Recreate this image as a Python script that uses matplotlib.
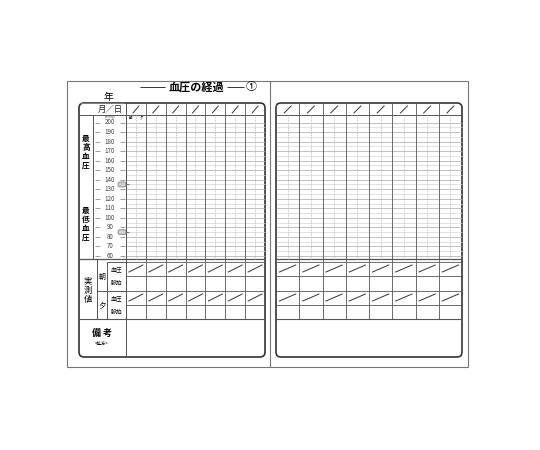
import matplotlib
matplotlib.use("Agg")
import matplotlib.pyplot as plt
from matplotlib.patches import FancyBboxPatch, Rectangle

plt.rcParams['font.family'] = ['Noto Sans CJK JP', 'DejaVu Sans']

scale_values = list(range(200, 50, -10))      # 200 .. 60
left_days = 7
right_days = 8
row_labels = ["血圧", "脈拍", "血圧", "脈拍"]
side_labels = ["朝", "夕"]
reference_marks = [135, 85]

fig = plt.figure(figsize=(5.4, 4.5), dpi=100)
ax = fig.add_axes([0, 0, 1, 1])
ax.set_xlim(0, 540)
ax.set_ylim(450, 0)
ax.axis("off")

LC = "#555555"
GC = "#a8a8a8"


def val_y(v):
    # 200 -> 122.5, 60 -> 256
    return 122.5 + (200 - v) * (256 - 122.5) / 140


def line(x0, y0, x1, y1, c=LC, lw=0.7, ls="-"):
    ax.plot([x0, x1], [y0, y1], color=c, lw=lw, ls=ls, solid_capstyle="butt")


# outer pages
ax.add_patch(Rectangle((67, 81), 401, 286, fill=False, ec="#777777", lw=0.8))
line(270, 81, 270, 367, c="#777777", lw=0.8)


def page_grid(x0, x1, ndays, day_x0):
    ax.add_patch(FancyBboxPatch((x0, 103), x1 - x0, 254,
                                boxstyle="round,pad=0,rounding_size=5",
                                fill=False, ec="#333333", lw=1.2))
    w = (x1 - day_x0) / ndays
    for v in range(200, 55, -5):
        y = val_y(v)
        line(day_x0, y, x1, y, c=GC if v % 10 == 0 else "#d6d6d6", lw=0.5)
    line(x0, 115, x1, 115, c=LC, lw=0.7)
    line(x0, 259, x1, 259, c=LC, lw=0.9)
    for y in [262, 276, 291, 305]:
        line(day_x0, y, x1, y, c=LC, lw=0.6)
    line(x0, 319, x1, 319, c=LC, lw=0.8)
    for i in range(ndays):
        x = day_x0 + i * w
        line(x, 103, x, 319, c=LC, lw=0.6)
        line(x + w / 2, 115, x + w / 2, 259, c="#b5b5b5", lw=0.5, ls=(0, (2, 1.5)))
        ax.plot([x + w * 0.35, x + w * 0.65], [113, 106], color="#333333", lw=0.7)
        for yb in (272, 301):
            ax.plot([x + w * 0.15, x + w * 0.85], [yb, yb - 7], color="#333333", lw=0.7)


# left page
page_grid(79, 265, left_days, 126)
line(93, 115, 93, 259)
line(97, 259, 97, 319)
line(107, 262, 107, 319)
line(107, 262, 126, 262)
line(126, 103, 126, 357)
line(97, 291, 126, 291)
for v in scale_values:
    y = val_y(v)
    line(95, y, 100, y, c="#777777", lw=0.5)
    ax.text(110, y, str(v), fontsize=4.5, ha="center", va="center", color="#444444")
    line(120, y, 125, y, c="#777777", lw=0.5)
ax.text(110, 117.2, "(mmHg)", fontsize=2.0, ha="center", va="center", color="#555555")
ax.text(131, 117.5, "朝", fontsize=2.5, ha="center", va="center")
ax.text(141, 117.5, "夕", fontsize=2.5, ha="center", va="center")
for v in reference_marks:
    y = val_y(v)
    ax.add_patch(FancyBboxPatch((118, y - 2.5), 8, 5, boxstyle="round,pad=0,rounding_size=2",
                                fc="#cfcfcf", ec="#777777", lw=0.5))
    line(126, y, 129, y, c="#777777", lw=0.8)
ax.text(110, 109, "月／日", fontsize=6, ha="center", va="center", color="#222222")
ax.text(86, 152, "最\n高\n血\n圧", fontsize=5.5, ha="center", va="center",
        fontweight="bold", linespacing=1.0)
ax.text(86, 224, "最\n低\n血\n圧", fontsize=5.5, ha="center", va="center",
        fontweight="bold", linespacing=1.0)
ax.text(88, 290, "実\n測\n値", fontsize=6, ha="center", va="center", linespacing=1.1)
ax.text(102, 277, side_labels[0], fontsize=5, ha="center", va="center")
ax.text(102, 306, side_labels[1], fontsize=5.5, ha="center", va="center")
for lab, y in zip(row_labels, [269, 283.5, 298, 312]):
    ax.text(116.5, y, lab, fontsize=4.2, ha="center", va="center")
ax.text(102, 333, "備 考", fontsize=6.5, ha="center", va="center", fontweight="bold")
ax.text(102, 343, "<処方>", fontsize=3.2, ha="center", va="center")

# right page
page_grid(276, 462, right_days, 276)

# title
ax.text(108, 97, "年", fontsize=7, ha="center", va="center")
line(80, 103, 124, 103, c="#888888", lw=0.6)
line(140, 87, 165, 87, c="#333333", lw=0.7)
ax.text(196, 87, "血圧の経過", fontsize=8, ha="center", va="center", fontweight="bold")
line(227, 87, 244, 87, c="#333333", lw=0.7)
ax.text(251, 87, "①", fontsize=8, ha="center", va="center")

fig.savefig("out.png", dpi=100)
